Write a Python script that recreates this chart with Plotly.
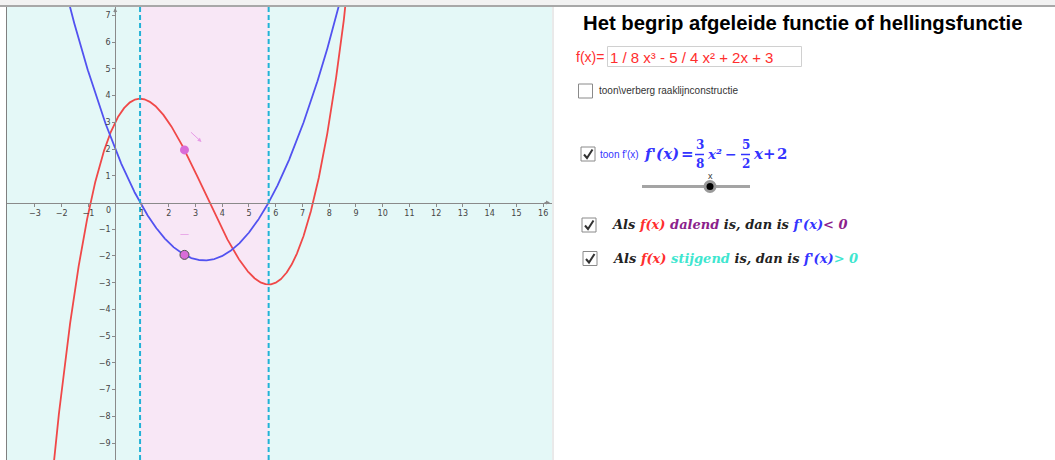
import numpy as np
import plotly.graph_objects as go

# ---------------- data ----------------
f_coef = [1/8, -5/4, 2, 3]          # f(x) = 1/8 x^3 - 5/4 x^2 + 2x + 3
fp_coef = [3/8, -5/2, 2]            # f'(x) = 3/8 x^2 - 5/2 x + 2
x_slider = 2.59                     # slider value x
x_range = [-4.045, 16.33]
y_range = [-9.63, 7.31]
x_ticks = [-3, -2, -1, 1, 2, 3, 4, 5, 6, 7, 8, 9, 10, 11, 12, 13, 14, 15, 16]
y_ticks = [-9, -8, -7, -6, -5, -4, -3, -2, -1, 1, 2, 3, 4, 5, 6, 7]

title = "Het begrip afgeleide functie of hellingsfunctie"
input_text = "1 / 8 x³ - 5 / 4 x² + 2x + 3"
cb_text = "toon\\verberg raaklijnconstructie"

W, H = 1055, 460

def PX(px):
    return px / W

def PY(py):
    return 1 - py / H

RED = "#f04848"
BLUE = "#5252f0"
TXT_RED = "#ff2e2e"
TXT_BLUE = "#3434ff"
PURPLE = "#8c1f8c"
TURQ = "#3fe6cf"
PINKPT = "#d96cd8"

xs = np.linspace(x_range[0], x_range[1], 2000)
fy = np.polyval(f_coef, xs)
fpy = np.polyval(fp_coef, xs)
roots = np.sort(np.real(np.roots(fp_coef)))

fig = go.Figure()
fig.add_trace(go.Scatter(x=xs, y=fy, mode="lines", line=dict(color=RED, width=1.8),
                         hoverinfo="skip"))
fig.add_trace(go.Scatter(x=xs, y=fpy, mode="lines", line=dict(color=BLUE, width=1.8),
                         hoverinfo="skip"))
# dashed vertical lines at roots of f'
for r in roots:
    fig.add_trace(go.Scatter(x=[r, r], y=y_range, mode="lines",
                             line=dict(color="#22b2d6", width=2, dash="5px,3px"),
                             hoverinfo="skip"))
# slider points
fs = float(np.polyval(f_coef, x_slider))
fps = float(np.polyval(fp_coef, x_slider))
fig.add_trace(go.Scatter(x=[x_slider], y=[fs], mode="markers",
                         marker=dict(size=9, color=PINKPT, line=dict(width=0)),
                         hoverinfo="skip"))
fig.add_trace(go.Scatter(x=[x_slider], y=[fps], mode="markers",
                         marker=dict(size=9, color=PINKPT, line=dict(width=1, color="#505050")),
                         hoverinfo="skip"))

shapes = []
# pink region between roots
shapes.append(dict(type="rect", xref="x", yref="y domain", x0=roots[0], x1=roots[1],
                   y0=0, y1=1, fillcolor="#f8e7f6", line=dict(width=0), layer="below"))
# top bar
shapes.append(dict(type="rect", xref="paper", yref="paper", x0=0, x1=1, y0=PY(6), y1=1,
                   fillcolor="#f2f2f2", line=dict(width=0)))
shapes.append(dict(type="line", xref="paper", yref="paper", x0=0, x1=1, y0=PY(6), y1=PY(6),
                   line=dict(color="#a8a8a8", width=2)))
# left border of graphics view
shapes.append(dict(type="line", xref="paper", yref="paper", x0=PX(6.5), x1=PX(6.5),
                   y0=0, y1=PY(7), line=dict(color="#808080", width=1)))
# divider
shapes.append(dict(type="line", xref="paper", yref="paper", x0=PX(553), x1=PX(553),
                   y0=0, y1=PY(7), line=dict(color="#d4d4d4", width=1)))

# input box
shapes.append(dict(type="rect", xref="paper", yref="paper", x0=PX(607.5), x1=PX(801.5),
                   y0=PY(66.5), y1=PY(46.5), fillcolor="white",
                   line=dict(color="#d0d0d0", width=1)))

def checkbox(x, y, checked):
    s = 14
    shapes.append(dict(type="rect", xref="paper", yref="paper", x0=PX(x), x1=PX(x + s),
                       y0=PY(y + s), y1=PY(y), fillcolor="white",
                       line=dict(color="#8a8a8a", width=1)))
    if checked:
        path = "M {} {} L {} {} L {} {}".format(PX(x + 3), PY(y + 7.5), PX(x + 6), PY(y + 11),
                                                 PX(x + 11.5), PY(y + 2.5))
        shapes.append(dict(type="path", xref="paper", yref="paper", path=path,
                           line=dict(color="#333333", width=2)))

checkbox(578.5, 84, False)
checkbox(581, 147, True)
checkbox(582, 218, True)
checkbox(583, 251.5, True)

# slider
shapes.append(dict(type="line", xref="paper", yref="paper", x0=PX(642), x1=PX(750),
                   y0=PY(186.5), y1=PY(186.5), line=dict(color="#a4a4a4", width=3)))
shapes.append(dict(type="circle", xref="paper", yref="paper", x0=PX(703.5), x1=PX(716.5),
                   y0=PY(193), y1=PY(180), fillcolor="#9a9a9a", line=dict(width=0)))
shapes.append(dict(type="circle", xref="paper", yref="paper", x0=PX(706.5), x1=PX(713.5),
                   y0=PY(190), y1=PY(183), fillcolor="#000000", line=dict(width=0)))

# fraction bars
for cx in (699.5, 745.5):
    shapes.append(dict(type="line", xref="paper", yref="paper", x0=PX(cx - 4.5), x1=PX(cx + 4.5),
                       y0=PY(154.5), y1=PY(154.5), line=dict(color=TXT_BLUE, width=1.5)))

ann = []

def txt(x, y, text, size, color="#000", family="Liberation Sans", xanchor="left",
        weight="normal", style="normal", pad=1):
    ann.append(dict(x=PX(x), y=PY(y), xref="paper", yref="paper", text=text, showarrow=False,
                    xanchor=xanchor, yanchor="middle", borderpad=pad,
                    font=dict(size=size, color=color, family=family, weight=weight, style=style)))

txt(802.5, 23, "<b>" + title + "</b>", 20.3, "#000", xanchor="center")
txt(574, 57, "f(x)=", 14, TXT_RED)
txt(608, 57, input_text, 15, TXT_RED)
txt(596.5, 91, cb_text, 10, "#333")
txt(598, 154, "toon f'(x)", 10, TXT_BLUE)

SER = "DejaVu Serif"
txt(642, 154, "f'(x)", 15, TXT_BLUE, family=SER, weight="bold", style="italic")
txt(687, 154, "=", 15, TXT_BLUE, family=SER, xanchor="center", weight="bold")
txt(699.5, 145, "3", 12, TXT_BLUE, family=SER, xanchor="center", weight="bold")
txt(699.5, 163.5, "8", 12, TXT_BLUE, family=SER, xanchor="center", weight="bold")
txt(706, 154, "x²", 13.5, TXT_BLUE, family=SER, weight="bold", style="italic", pad=0)
txt(730.5, 154, "−", 14, TXT_BLUE, family=SER, xanchor="center", weight="bold", pad=0)
txt(745.5, 145, "5", 12, TXT_BLUE, family=SER, xanchor="center", weight="bold")
txt(745.5, 163.5, "2", 12, TXT_BLUE, family=SER, xanchor="center", weight="bold")
txt(758, 154, "x", 15, TXT_BLUE, family=SER, xanchor="center", weight="bold", style="italic", pad=0)
txt(769.5, 154, "+", 15, TXT_BLUE, family=SER, xanchor="center", weight="bold", pad=0)
txt(782, 154, "2", 15, TXT_BLUE, family=SER, xanchor="center", weight="bold", pad=0)
txt(706, 176.5, "x", 9, "#333")

line1 = ("Als <span style='color:{r}'>f(x)</span> <span style='color:{p}'>dalend</span> is, dan is "
         "<span style='color:{b}'>f'(x)</span><span style='color:{p}'>&lt; 0</span>").format(
    r=TXT_RED, p=PURPLE, b=TXT_BLUE)
line2 = ("Als <span style='color:{r}'>f(x)</span> <span style='color:{t}'>stijgend</span> is, dan is "
         "<span style='color:{b}'>f'(x)</span><span style='color:{t}'>&gt; 0</span>").format(
    r=TXT_RED, t=TURQ, b=TXT_BLUE)
txt(609, 224.5, line1, 13, "#222", family=SER, weight="bold", style="italic")
txt(609.5, 258.5, line2, 13, "#222", family=SER, weight="bold", style="italic")

# origin label
ann.append(dict(x=0, y=0, xref="x", yref="y", text="0", showarrow=False, xshift=-7, yshift=-8,
                font=dict(size=8, color="#444", family="DejaVu Sans")))
# slope indicators near slider points
ann.append(dict(x=x_slider, y=fs, xref="x", yref="y", text="", showarrow=True,
                xshift=17, yshift=8, ax=-12, ay=-11, arrowhead=2, arrowsize=0.8,
                arrowwidth=1, arrowcolor="#e79be6"))
ann.append(dict(x=x_slider, y=fps, xref="x", yref="y", text="—", showarrow=False,
                yshift=21, font=dict(size=9, color="#e07de0")))
# axis arrowheads
ann.append(dict(x=0, y=y_range[1], xref="x", yref="y", text="", showarrow=True, ax=0, ay=7,
                yshift=-1, arrowhead=2, arrowsize=0.8, arrowwidth=1, arrowcolor="#8a8a8a"))
ann.append(dict(x=x_range[1], y=0, xref="x", yref="y", text="", showarrow=True, ax=-7, ay=0,
                xshift=-2, arrowhead=2, arrowsize=0.8, arrowwidth=1, arrowcolor="#8a8a8a"))

def fmt(v):
    return str(v).replace("-", "−")

fig.update_layout(
    width=W, height=H, autosize=False,
    margin=dict(l=0, r=0, t=0, b=0, pad=0),
    paper_bgcolor="white", plot_bgcolor="#e4f8f7",
    showlegend=False,
    xaxis=dict(range=x_range, domain=[PX(7), PX(552)], anchor="free",
               position=(H - 202.5) / H, showgrid=False, zeroline=False,
               showline=True, linecolor="#8a8a8a", linewidth=1,
               ticks="outside", ticklen=3, tickcolor="#8a8a8a",
               tickvals=x_ticks, ticktext=[fmt(v) for v in x_ticks],
               tickfont=dict(size=8, color="#444", family="DejaVu Sans"),
               fixedrange=True),
    yaxis=dict(range=y_range, domain=[0, PY(7)], anchor="free",
               position=115.2 / W, showgrid=False, zeroline=False,
               showline=True, linecolor="#8a8a8a", linewidth=1,
               ticks="outside", ticklen=3, tickcolor="#8a8a8a",
               tickvals=y_ticks, ticktext=[fmt(v) for v in y_ticks],
               tickfont=dict(size=8, color="#444", family="DejaVu Sans"),
               fixedrange=True),
    shapes=shapes,
    annotations=ann,
)

fig.write_html("out.html", config={"displayModeBar": False},
               post_script="document.body.style.margin='0px';document.body.style.overflow='hidden';")
